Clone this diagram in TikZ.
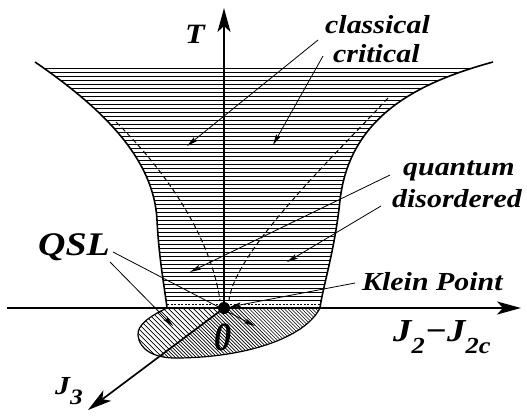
\documentclass[tikz,border=0pt]{standalone}
\usepackage{fontspec}
\setmainfont{Liberation Serif}
\usetikzlibrary{arrows.meta}
\tikzset{
 axis/.style={line width=1.7pt, -{Stealth[length=24pt,width=13pt,inset=6pt]}},
 lblarrow/.style={line width=0.8pt, -{Stealth[length=11pt,width=5pt,inset=2pt]}},
 lbl/.style={inner sep=0pt, anchor=base west, font=\fontsize{26}{26}\selectfont\bfseries\itshape},
 boundary/.style={line width=1.6pt},
 hline/.style={line width=0.95pt},
 hatch/.style={line width=0.7pt},
 dashcurve/.style={line width=1pt, dash pattern=on 5pt off 3pt},
}
\newcommand\xs[1]{\scalebox{1.15}[1]{#1}}
\def\funnelpath{(35,62) .. controls (105,110) and (154,160) .. (157,220) .. controls (159,260) and (165,290) .. (167,308) -- (320,308) .. controls (322,290) and (335,250) .. (340,200) .. controls (350,115) and (420,82) .. (493,62) -- cycle}
\def\ellpath{(167,308) .. controls (150,316) and (137,325) .. (138,335) .. controls (139,350) and (155,358) .. (175,358) .. controls (245,358) and (305,338) .. (320,308) -- cycle}
\begin{document}
\begin{tikzpicture}[x=1pt,y=-1pt]
\useasboundingbox (0,0) rectangle (527,416);
% horizontal shading of the funnel
\begin{scope}
 \clip \funnelpath;
 \foreach \y in {68,72,...,300} \draw[hline] (20,\y) -- (510,\y);
\end{scope}
\draw[line width=0.6pt, dash pattern=on 2pt off 1.5pt] (167,304) -- (320,304);
% dashed crossover curves
\draw[dashcurve] (116,122) .. controls (165,170) and (210,235) .. (220,300);
\draw[dashcurve] (388,98) .. controls (340,150) and (235,250) .. (229,300);
% hatched QSL region
\begin{scope}
 \clip \ellpath;
 \begin{scope}
  \clip (224,290) -- (224,308) -- (88,410) -- (0,410) -- (0,290) -- cycle;
  \foreach \c in {-200,-195,...,400} \draw[hatch] (\c,290) -- ++(130,130);
 \end{scope}
 \begin{scope}
  \clip (224,290) -- (224,308) -- (88,410) -- (430,410) -- (430,290) -- cycle;
  \foreach \c in {-200,-196.5,...,400} \draw[hatch] (\c,290) -- ++(130,130);
 \end{scope}
\end{scope}
\draw[line width=1.2pt] \ellpath;
% funnel boundaries
\draw[boundary] (35,62) .. controls (105,110) and (154,160) .. (157,220) .. controls (159,260) and (165,290) .. (167,308);
\draw[boundary] (493,62) .. controls (420,82) and (350,115) .. (340,200) .. controls (335,250) and (322,290) .. (320,308);
% axes
\node[circle, fill, inner sep=0pt, minimum size=12pt] (O) at (224,308) {};
\coordinate (Ttip) at (224,8);
\coordinate (Hl) at (7,308);
\coordinate (Hr) at (521,308);
\coordinate (J3tip) at (88,410);
\draw[axis] (O.center) -- (Ttip);
\draw[axis, line width=1.5pt] (Hl) -- (Hr);
\draw[axis] (O.center) -- (J3tip);
% labels
\node[lbl] (cl) at (325,33) {\xs{classical}};
\node[lbl] (cr) at (333,62) {\xs{critical}};
\node[lbl] (qu) at (403,175) {\xs{quantum}};
\node[lbl] (di) at (392,207) {\xs{disordered}};
\node[lbl] (kp) at (362,290) {\xs{Klein Point}};
\node[lbl, font=\fontsize{33}{33}\selectfont\bfseries\itshape] (qsl) at (38,255) {\xs{QSL}};
\node[lbl, font=\fontsize{28}{28}\selectfont\bfseries\itshape] (T) at (185,43) {\xs{T}};
\node[lbl, font=\fontsize{32}{32}\selectfont\bfseries\itshape] (J2) at (393,341) {\xs{J\raisebox{-12pt}{\fontsize{23}{23}\selectfont 2}−J\raisebox{-12pt}{\fontsize{23}{23}\selectfont 2c}}};
\node[lbl, font=\fontsize{26}{26}\selectfont\bfseries\itshape] (J3) at (55,394) {\xs{J\raisebox{-10pt}{\fontsize{22}{22}\selectfont 3}}};
\node[lbl, font=\fontsize{40}{40}\selectfont\bfseries\itshape] (zero) at (214,350) {\scalebox{0.85}[1]{0}};
% label arrows
\coordinate (c1s) at (318,40);  \coordinate (c1e) at (187,146);
\coordinate (c2s) at (323,56);  \coordinate (c2e) at (273,145);
\coordinate (q1s) at (390,175); \coordinate (q1e) at (190,272);
\coordinate (q2s) at (381,206); \coordinate (q2e) at (287,262);
\coordinate (s1s) at (113,252); \coordinate (s1e) at (255,326);
\coordinate (s2s) at (110,262); \coordinate (s2e) at (173,326);
\coordinate (ks) at (355,283);
\draw[lblarrow] (c1s) -- (c1e);
\draw[lblarrow] (c2s) -- (c2e);
\draw[lblarrow] (q1s) -- (q1e);
\draw[lblarrow] (q2s) -- (q2e);
\draw[lblarrow] (s1s) -- (s1e);
\draw[lblarrow] (s2s) -- (s2e);
\draw[lblarrow] (ks) -- (O);
\end{tikzpicture}
\end{document}
